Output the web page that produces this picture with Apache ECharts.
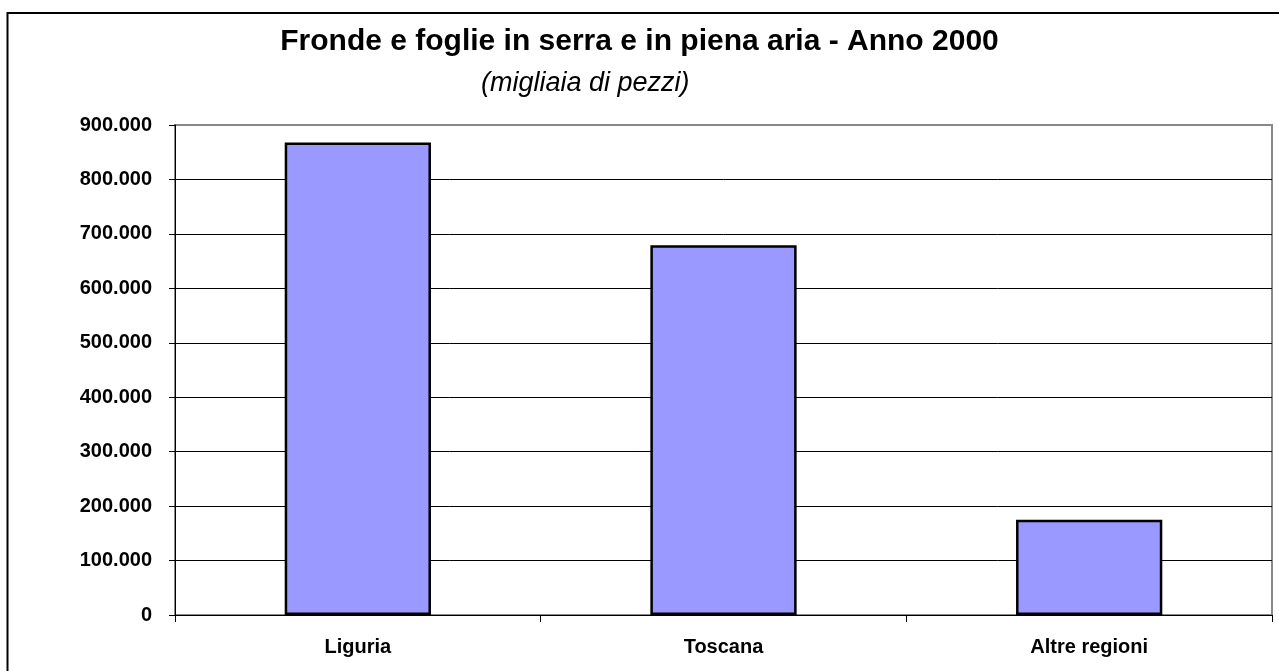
<!DOCTYPE html>
<html>
<head>
<meta charset="utf-8">
<script src="https://cdn.jsdelivr.net/npm/echarts@6/dist/echarts.min.js"></script>
<style>
  html, body { margin: 0; padding: 0; background: #fff; }
  #chart { width: 1279px; height: 671px; }
</style>
</head>
<body>
<div id="chart"></div>
<script>
// dati (migliaia di pezzi)
var categorie = ['Liguria', 'Toscana', 'Altre regioni'];
var valori = [868000, 679000, 175000];
var yMax = 900000;
var yStep = 100000;

// formato italiano con punto per le migliaia
function fmt(v) {
    return String(v).replace(/\B(?=(\d{3})+(?!\d))/g, '.');
}

var chart = echarts.init(document.getElementById('chart'));

// colori delle linee di griglia: l'ultima (900.000) coincide col bordo grigio
var gridColors = [];
for (var i = 0; i <= yMax / yStep; i++) {
    gridColors.push(i === yMax / yStep ? '#888888' : '#000000');
}

var font = 'Liberation Sans, Arial, sans-serif';

var option = {
    backgroundColor: '#fff',
    animation: false,
    title: [{
        text: 'Fronde e foglie in serra e in piena aria - Anno 2000',
        left: 'center',
        top: 22,
        textStyle: {
            fontFamily: font,
            fontSize: 30,
            fontWeight: 'bold',
            color: '#000'
        }
    }, {
        text: '(migliaia di pezzi)',
        left: 476,
        top: 65,
        textStyle: {
            fontFamily: font,
            fontSize: 27,
            fontStyle: 'italic',
            fontWeight: 'normal',
            color: '#000'
        }
    }],
    graphic: [{
        type: 'rect',
        shape: { x: 7.5, y: 13, width: 1300, height: 700 },
        style: { fill: 'none', stroke: '#000', lineWidth: 2 },
        silent: true
    }],
    grid: {
        left: 175,
        top: 125,
        right: 7,
        bottom: 56,
        show: true,
        borderColor: '#888888',
        borderWidth: 2
    },
    xAxis: {
        type: 'category',
        data: categorie,
        axisLine: { lineStyle: { color: '#000', width: 1 } },
        axisTick: { show: true, length: 7, lineStyle: { color: '#000' } },
        axisLabel: {
            margin: 22,
            fontFamily: font,
            fontSize: 20,
            fontWeight: 'bold',
            color: '#000'
        }
    },
    yAxis: {
        type: 'value',
        min: 0,
        max: yMax,
        interval: yStep,
        axisLine: { show: true, lineStyle: { color: '#000', width: 1 } },
        axisTick: { show: true, length: 6, lineStyle: { color: '#000' } },
        splitLine: { show: true, lineStyle: { color: gridColors, width: 1 } },
        axisLabel: {
            margin: 23,
            formatter: fmt,
            fontFamily: font,
            fontSize: 20,
            fontWeight: 'bold',
            color: '#000'
        }
    },
    series: [{
        type: 'bar',
        data: valori,
        barWidth: '40%',
        itemStyle: {
            color: '#9999FF',
            borderColor: '#000',
            borderWidth: 2.5
        }
    }]
};

chart.setOption(option);
</script>
</body>
</html>
